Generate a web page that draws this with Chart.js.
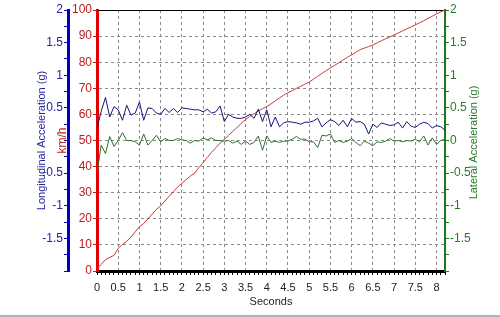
<!DOCTYPE html>
<html>
<head>
<meta charset="utf-8">
<script src="https://cdn.jsdelivr.net/npm/chart.js@4/dist/chart.umd.min.js"></script>
<style>
  body { margin: 0; background: #fff; }
  #wrap { width: 500px; height: 315px; border-bottom: 2px solid #b0b0b0; }
</style>
</head>
<body>
<div id="wrap"><canvas id="chart" width="500" height="315"></canvas></div>
<script>
// time in seconds, one sample every 0.1 s
const seconds = [0, 0.1, 0.2, 0.3, 0.4, 0.5, 0.6, 0.7, 0.8, 0.9, 1, 1.1, 1.2, 1.3, 1.4, 1.5, 1.6, 1.7, 1.8, 1.9,
  2, 2.1, 2.2, 2.3, 2.4, 2.5, 2.6, 2.7, 2.8, 2.9, 3, 3.1, 3.2, 3.3, 3.4, 3.5, 3.6, 3.7, 3.8, 3.9,
  4, 4.1, 4.2, 4.3, 4.4, 4.5, 4.6, 4.7, 4.8, 4.9, 5, 5.1, 5.2, 5.3, 5.4, 5.5, 5.6, 5.7, 5.8, 5.9,
  6, 6.1, 6.2, 6.3, 6.4, 6.5, 6.6, 6.7, 6.8, 6.9, 7, 7.1, 7.2, 7.3, 7.4, 7.5, 7.6, 7.7, 7.8, 7.9,
  8, 8.1, 8.2];

// speed (km/h)
const speed = [1.0, 2.5, 4.4, 5.2, 6.0, 8.7, 10.2, 11.4, 13.0, 15.0, 17.0, 18.2, 20.0, 21.8, 23.6, 25.0, 26.8, 28.6, 30.4, 32.2,
  33.6, 35.0, 36.4, 37.5, 39.6, 41.6, 43.5, 45.5, 47.2, 49.0, 50.4, 52.0, 53.5, 55.0, 56.6, 58.0, 59.3, 60.2, 61.3, 62.2,
  63.0, 64.0, 65.2, 66.3, 67.4, 68.3, 69.1, 70.0, 70.8, 71.6, 72.4, 73.5, 74.6, 75.7, 76.8, 77.8, 78.8, 79.8, 80.9, 81.9,
  82.8, 83.8, 84.8, 85.4, 86.0, 86.6, 87.4, 88.2, 89.0, 89.7, 90.4, 91.2, 92.0, 92.8, 93.5, 94.3, 95.1, 95.9, 96.8, 97.6,
  98.5, 99.3, 100.0];

// longitudinal acceleration (g)
const longAcc = [0.19, 0.45, 0.66, 0.36, 0.52, 0.47, 0.31, 0.54, 0.39, 0.42, 0.59, 0.31, 0.50, 0.49, 0.42, 0.40, 0.49, 0.43, 0.49, 0.43,
  0.50, 0.49, 0.48, 0.47, 0.47, 0.44, 0.48, 0.42, 0.44, 0.53, 0.29, 0.40, 0.36, 0.34, 0.34, 0.36, 0.40, 0.34, 0.48, 0.29,
  0.47, 0.21, 0.36, 0.21, 0.27, 0.29, 0.28, 0.27, 0.25, 0.28, 0.28, 0.30, 0.34, 0.21, 0.27, 0.32, 0.29, 0.23, 0.31, 0.21,
  0.34, 0.28, 0.29, 0.25, 0.10, 0.25, 0.20, 0.27, 0.25, 0.23, 0.24, 0.28, 0.19, 0.29, 0.22, 0.20, 0.25, 0.28, 0.26, 0.19,
  0.23, 0.21, 0.16];

// lateral acceleration (g)
const latAcc = [-0.50, -0.07, -0.20, 0.06, -0.09, 0.00, 0.12, 0.00, 0.00, -0.02, -0.07, 0.10, -0.07, 0.00, 0.08, -0.02, 0.03, 0.00, 0.00, 0.03,
  0.01, 0.00, -0.04, 0.00, -0.01, 0.04, 0.01, 0.04, 0.00, 0.00, -0.01, 0.00, -0.04, -0.01, -0.06, -0.01, -0.06, -0.03, 0.07, -0.15,
  0.07, -0.03, -0.01, -0.03, -0.01, -0.01, 0.02, 0.06, 0.02, 0.02, -0.02, -0.02, -0.11, 0.08, 0.07, 0.10, -0.03, 0.00, -0.03, -0.01,
  0.03, -0.03, -0.08, -0.01, -0.04, -0.08, -0.02, -0.03, -0.01, 0.03, -0.01, 0.00, -0.02, 0.00, -0.01, 0.02, -0.02, 0.07, -0.07, 0.04,
  -0.06, 0.00, 0.02];

const FONT = "'Liberation Sans', Arial, sans-serif";
const GRID = "#8a8a8a";

const tidy = (v) => Math.round(v * 100) / 100;
const isHalf = (v) => Math.abs(v * 2 - Math.round(v * 2)) < 1e-6;
const toXY = (vals) => vals.map((v, i) => ({ x: seconds[i], y: v }));

// right axis title reads bottom-to-top in the original
const latTitle = {
  id: "latTitle",
  afterDraw(chart) {
    const s = chart.scales.yLat;
    const ctx = chart.ctx;
    ctx.save();
    ctx.translate(s.left + 29, (s.top + s.bottom) / 2 + 2);
    ctx.rotate(-Math.PI / 2);
    ctx.font = "11px " + FONT;
    ctx.fillStyle = "#2a7a2a";
    ctx.textAlign = "center";
    ctx.textBaseline = "middle";
    ctx.fillText("Lateral Acceleration (g)", 0, 0);
    ctx.restore();
  },
};

new Chart(document.getElementById("chart"), {
  type: "line",
  data: {
    datasets: [
      { data: toXY(longAcc), yAxisID: "yLong", borderColor: "#14147a", borderWidth: 1, pointRadius: 0, tension: 0 },
      { data: toXY(latAcc), yAxisID: "yLat", borderColor: "#2f6f2f", borderWidth: 1, pointRadius: 0, tension: 0 },
      { data: toXY(speed), yAxisID: "ySpeed", borderColor: "#c83a3a", borderWidth: 1, pointRadius: 0, tension: 0 },
    ],
  },
  options: {
    responsive: false,
    animation: false,
    layout: { padding: { top: 10 } },
    plugins: { legend: { display: false }, tooltip: { enabled: false } },
    scales: {
      x: {
        type: "linear",
        position: "bottom",
        min: 0,
        max: 8.2,
        afterFit: (s) => { s.height = 44; },
        ticks: {
          stepSize: 0.1,
          autoSkip: false,
          maxRotation: 0,
          padding: 6,
          color: "#222",
          font: { family: FONT, size: 11 },
          callback: (v) => {
            const t = tidy(v);
            return isHalf(t) && t <= 8 ? String(t) : "";
          },
        },
        grid: {
          color: (ctx) => {
            const t = ctx.tick ? tidy(ctx.tick.value) : 0;
            return isHalf(t) && t > 0 ? GRID : "transparent";
          },
          tickColor: "#000",
          tickLength: 4,
        },
        border: { color: "#000", width: 3, dash: [3, 3] },
        title: { display: true, text: "Seconds", color: "#222", font: { family: FONT, size: 11 }, padding: { top: 0, bottom: 6 } },
      },
      xTop: {
        type: "linear",
        position: "top",
        min: 0,
        max: 8.2,
        afterFit: (s) => { s.height = 0; },
        ticks: { display: false },
        grid: { display: false, drawTicks: false },
        border: { color: "#000", width: 1 },
      },
      ySpeed: {
        position: "left",
        weight: 0,
        min: 0,
        max: 100,
        afterFit: (s) => { s.width = 29; },
        ticks: { stepSize: 10, padding: 1, color: "#b82020", font: { family: FONT, size: 12 } },
        grid: {
          color: (ctx) => (ctx.tick && ctx.tick.value > 0 && ctx.tick.value < 100 ? GRID : "transparent"),
          tickColor: "#b82020",
          tickLength: 4,
        },
        border: { color: "#e00000", width: 3, dash: [3, 3] },
        title: { display: true, text: "km/h", color: "#b82020", font: { family: FONT, size: 12 }, padding: { top: -13, bottom: 0 } },
      },
      yLong: {
        position: "left",
        weight: 1,
        min: -2,
        max: 2,
        afterFit: (s) => { s.width = 68; },
        ticks: {
          stepSize: 0.25,
          autoSkip: false,
          padding: 1,
          color: "#24249a",
          font: { family: FONT, size: 12 },
          callback: (v) => {
            const t = tidy(v);
            return isHalf(t) && t > -2 && t !== 0 ? String(t) : "";
          },
        },
        grid: { drawOnChartArea: false, tickColor: "#0000b0", tickLength: 4 },
        border: { color: "#0000c0", width: 3 },
        title: { display: true, text: "Longitudinal Acceleration (g)", color: "#24249a", font: { family: FONT, size: 11 }, padding: { top: 35, bottom: 0 } },
      },
      yLat: {
        position: "right",
        min: -2,
        max: 2,
        afterFit: (s) => { s.width = 55; },
        ticks: {
          stepSize: 0.25,
          autoSkip: false,
          padding: 1,
          color: "#2a7a2a",
          font: { family: FONT, size: 12 },
          callback: (v) => {
            const t = tidy(v);
            return isHalf(t) && t > -2 ? String(t) : "";
          },
        },
        grid: { drawOnChartArea: false, tickColor: "#1a7a1a", tickLength: 4 },
        border: { color: "#1a7a1a", width: 2 },
      },
    },
  },
  plugins: [latTitle],
});
</script>
</body>
</html>
